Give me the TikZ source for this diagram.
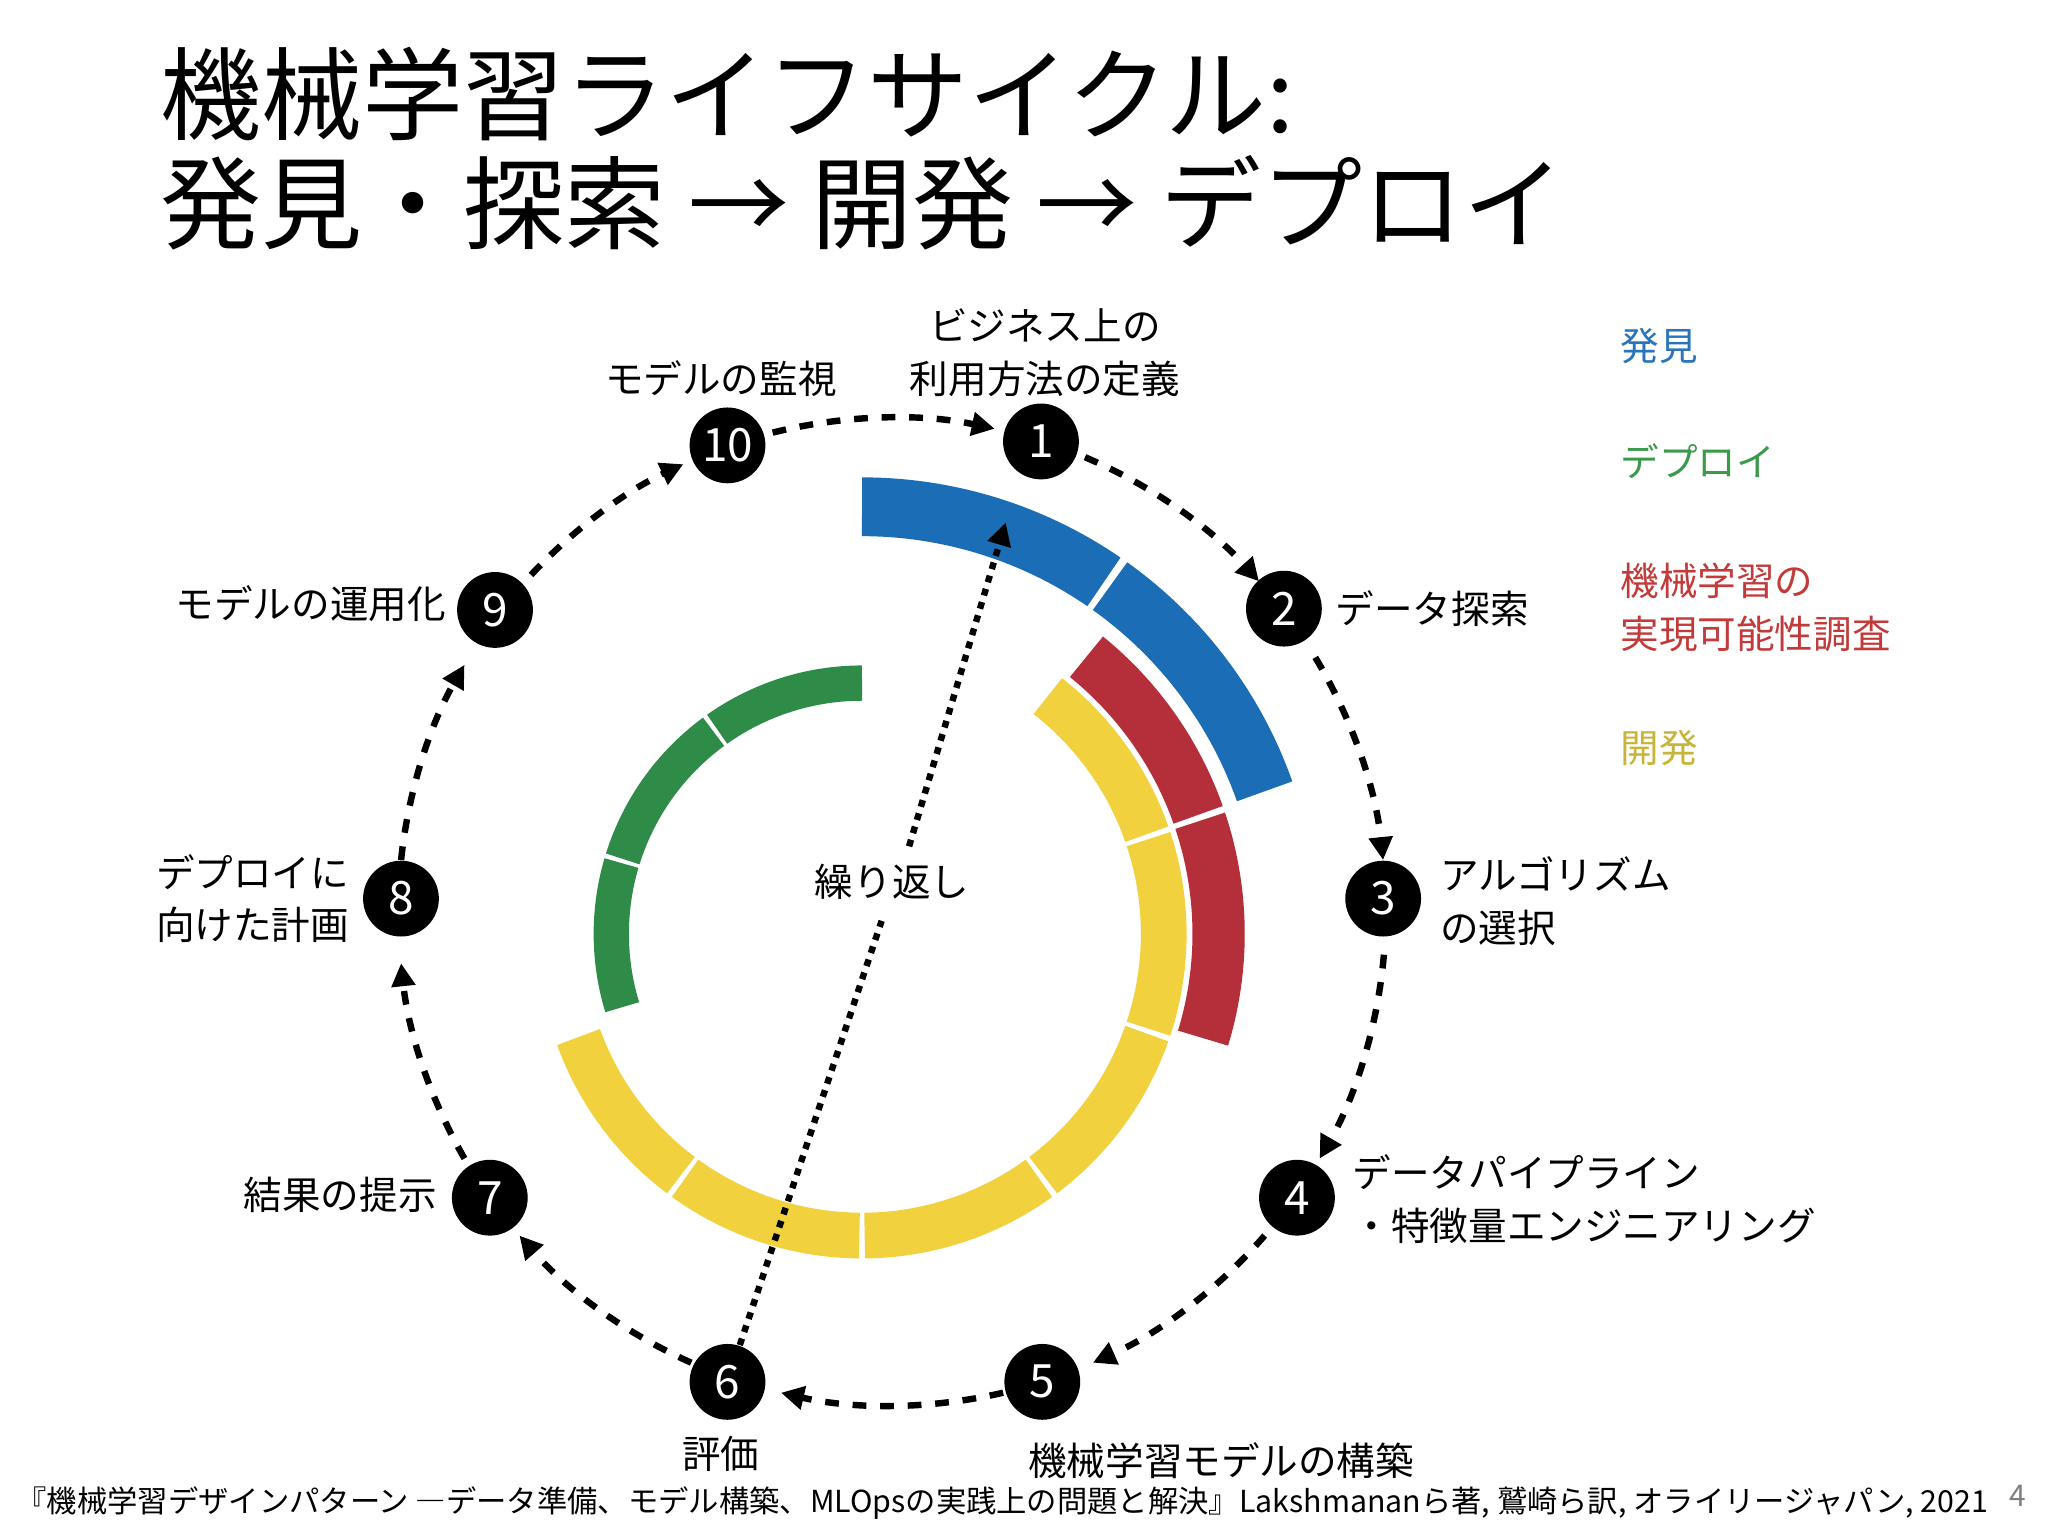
\documentclass[tikz,border=0pt]{standalone}
\usepackage{fontspec}
\setmainfont{Noto Sans CJK JP}
\usetikzlibrary{arrows.meta,calc}
\definecolor{cblue}{HTML}{1B6DB6}
\definecolor{cgreen}{HTML}{2E8C48}
\definecolor{cred}{HTML}{B52F3A}
\definecolor{cyel}{HTML}{F2D13E}
\definecolor{tblue}{HTML}{2A74BC}
\definecolor{tgreen}{HTML}{3A9A4A}
\definecolor{tred}{HTML}{C23A3A}
\definecolor{tyel}{HTML}{C8B43A}
\begin{document}
\begin{tikzpicture}[x=0.01cm,y=0.01cm,
  num/.style={circle,fill=black,text=white,minimum size=0.58cm,inner sep=0pt,font=\fontsize{10}{10}\selectfont},
  lab/.style={font=\fontsize{8.4}{11.5}\selectfont,inner sep=0pt},
  cyc/.style={line width=1.4pt,dash pattern=on 3pt off 3pt,-{Triangle[length=5pt,width=5pt]}},
  seg/.style={line width=#1}]
\useasboundingbox (0,0) rectangle (1568,-1176);
\fill[white] (0,0) rectangle (1568,-1176);
% title
\node[anchor=west,inner sep=0pt,font=\fontsize{22}{28}\selectfont] (t1) at (122,-72) {機械学習ライフサイクル:};
\node[anchor=west,inner sep=0pt,font=\fontsize{22}{28}\selectfont] (t2) at (122,-155) {発見・探索 → 開発 → デプロイ};
% arcs
\coordinate (C) at (660,-715);
\foreach \a/\b in {90/125.3,126.3/162.6,163.6/197}
  \draw[cgreen,seg=0.27cm] ([shift={(\a:192)}]C) arc[start angle=\a,end angle=\b,radius=192];
\foreach \a/\b in {52/19.3,18.3/-18.3,-19.3/-53.1,-54.1/-89.5,-90.5/-125.9,-126.9/-160}
  \draw[cyel,seg=0.35cm] ([shift={(\a:231)}]C) arc[start angle=\a,end angle=\b,radius=231];
\foreach \a/\b in {51/19.5,18.5/-17}
  \draw[cred,seg=0.4cm] ([shift={(\a:273)}]C) arc[start angle=\a,end angle=\b,radius=273];
\foreach \a/\b in {90/55.5,54.5/19.5}
  \draw[cblue,seg=0.45cm] ([shift={(\a:327)}]C) arc[start angle=\a,end angle=\b,radius=327];
% numbered nodes
\node[num] (n1) at (797,-338) {1};
\node[num] (n2) at (983,-466) {2};
\node[num] (n3) at (1059,-688) {3};
\node[num] (n4) at (993,-917) {4};
\node[num] (n5) at (798,-1058) {5};
\node[num] (n6) at (557,-1058) {6};
\node[num] (n7) at (375,-917) {7};
\node[num] (n8) at (307,-688) {8};
\node[num] (n9) at (379,-467) {9};
\node[num] (n10) at (557,-341) {10};
% cycle arcs
\coordinate (O) at (683,-698);
\foreach \a/\b in {67/42,31/6,-5/-30,-41/-66,-77/-103,-114/-139,-150/-174,174/150,137/115,104/78}
  \draw[cyc] ([shift={(\a:378)}]O) arc[start angle=\a,end angle=\b,radius=378];
% repeat
\node[lab] (rep) at (683,-675) {繰り返し};
\coordinate (rtop) at (770,-400);
\coordinate (rlow) at (675,-705);
\coordinate (rhigh) at (696,-648);
\draw[line width=1.4pt,dash pattern=on 1.5pt off 1.5pt] (n6) -- (rlow);
\draw[line width=1.4pt,dash pattern=on 1.5pt off 1.5pt,-{Triangle[length=5pt,width=5pt]}] (rhigh) -- (rtop);
% labels
\node[lab,align=center] (l1) at (800,-270) {ビジネス上の\\利用方法の定義};
\node[lab] (l10) at (552,-290) {モデルの監視};
\node[lab,anchor=west] (l2) at (1022,-466) {データ探索};
\node[lab,anchor=west,align=left] (l3) at (1102,-690) {アルゴリズム\\の選択};
\node[lab,anchor=west,align=left] (l4) at (1035,-918) {データパイプライン\\・特徴量エンジニアリング};
\node[lab] (l5) at (935,-1118) {機械学習モデルの構築};
\node[lab] (l6) at (552,-1113) {評価};
\node[lab,anchor=east] (l7) at (335,-915) {結果の提示};
\node[lab,anchor=east,align=left] (l8) at (268,-688) {デプロイに\\向けた計画};
\node[lab,anchor=east] (l9) at (342,-462) {モデルの運用化};
% legend
\node[lab,anchor=west,text=tblue] (g1) at (1240,-265) {発見};
\node[lab,anchor=west,text=tgreen] (g2) at (1240,-353) {デプロイ};
\node[lab,anchor=west,align=left,text=tred] (g3) at (1240,-465) {機械学習の\\実現可能性調査};
\node[lab,anchor=west,text=tyel] (g4) at (1240,-573) {開発};
% footer
\node[anchor=west,inner sep=0pt,font=\fontsize{6.6}{8}\selectfont] (foot) at (12,-1151) {『機械学習デザインパターン ―データ準備、モデル構築、MLOpsの実践上の問題と解決』Lakshmananら著, 鷲崎ら訳, オライリージャパン, 2021};
\node[inner sep=0pt,text=gray,font=\fontsize{6.5}{8}\selectfont] (pg) at (1545,-1145) {4};
\end{tikzpicture}
\end{document}
